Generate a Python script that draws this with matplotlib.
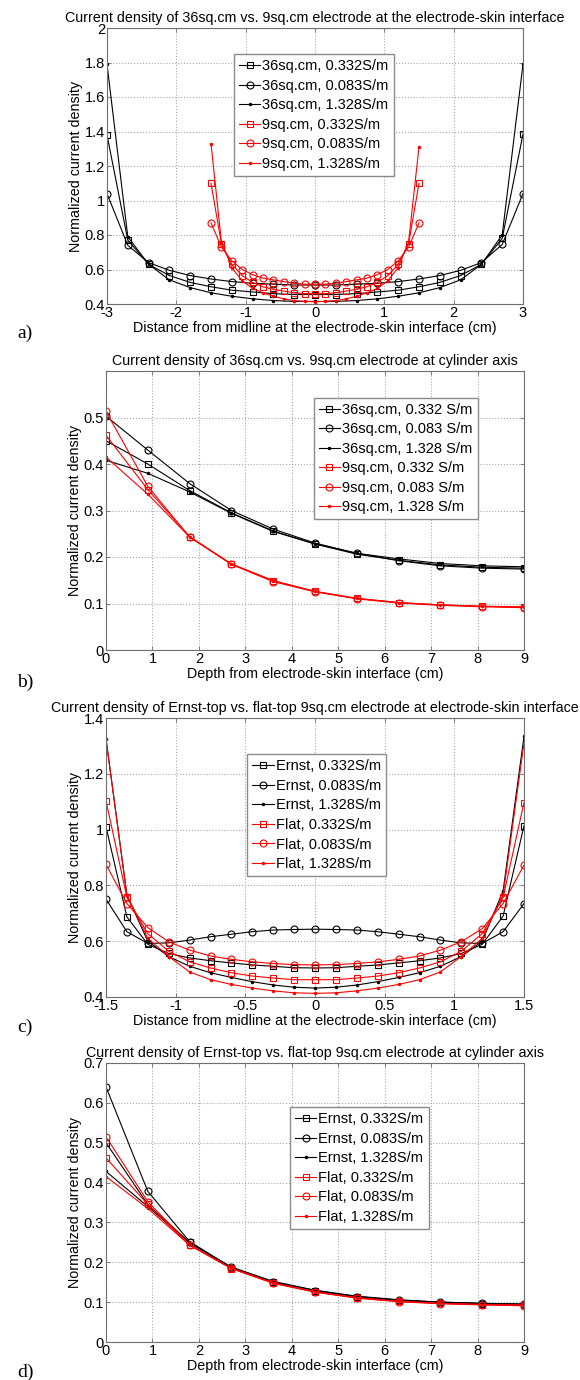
import matplotlib
matplotlib.use('Agg')
import matplotlib.pyplot as plt

plt.rcParams['font.family'] = ['Liberation Sans', 'DejaVu Sans']

# ---------------- Panel a ----------------
xa_36 = [-3.0, -2.7, -2.4, -2.1, -1.8, -1.5, -1.2, -0.9, -0.6, -0.3, 0.0,
         0.3, 0.6, 0.9, 1.2, 1.5, 1.8, 2.1, 2.4, 2.7, 3.0]
xa_9 = [-1.5, -1.35, -1.2, -1.05, -0.9, -0.75, -0.6, -0.45, -0.3, -0.15, 0.0,
        0.15, 0.3, 0.45, 0.6, 0.75, 0.9, 1.05, 1.2, 1.35, 1.5]
a_36_0332 = [1.38, 0.77, 0.63, 0.565, 0.525, 0.50, 0.48, 0.47, 0.46, 0.455, 0.455,
             0.455, 0.46, 0.47, 0.48, 0.50, 0.525, 0.565, 0.63, 0.78, 1.385]
a_36_0083 = [1.04, 0.74, 0.64, 0.595, 0.565, 0.545, 0.53, 0.52, 0.515, 0.51, 0.51,
             0.51, 0.515, 0.52, 0.53, 0.545, 0.565, 0.595, 0.64, 0.745, 1.04]
a_36_1328 = [1.79, 0.79, 0.63, 0.54, 0.495, 0.465, 0.445, 0.43, 0.42, 0.415, 0.415,
             0.415, 0.42, 0.43, 0.445, 0.465, 0.495, 0.54, 0.63, 0.80, 1.79]
a_9_0332 = [1.10, 0.75, 0.63, 0.565, 0.525, 0.50, 0.485, 0.475, 0.465, 0.46, 0.46,
            0.46, 0.465, 0.475, 0.485, 0.50, 0.525, 0.565, 0.63, 0.75, 1.10]
a_9_0083 = [0.87, 0.73, 0.65, 0.60, 0.57, 0.55, 0.54, 0.53, 0.52, 0.515, 0.515,
            0.515, 0.52, 0.53, 0.54, 0.55, 0.57, 0.60, 0.65, 0.73, 0.87]
a_9_1328 = [1.33, 0.76, 0.61, 0.535, 0.49, 0.465, 0.445, 0.43, 0.42, 0.415, 0.413,
            0.415, 0.42, 0.43, 0.445, 0.465, 0.49, 0.535, 0.61, 0.76, 1.31]
labels_a = ['36sq.cm, 0.332S/m', '36sq.cm, 0.083S/m', '36sq.cm, 1.328S/m',
            '9sq.cm, 0.332S/m', '9sq.cm, 0.083S/m', '9sq.cm, 1.328S/m']

# ---------------- Panel b ----------------
xb = [0, 0.9, 1.8, 2.7, 3.6, 4.5, 5.4, 6.3, 7.2, 8.1, 9.0]
b_36_0332 = [0.45, 0.40, 0.343, 0.295, 0.256, 0.228, 0.206, 0.193, 0.183, 0.178, 0.176]
b_36_0083 = [0.503, 0.43, 0.358, 0.30, 0.26, 0.23, 0.208, 0.192, 0.181, 0.176, 0.174]
b_36_1328 = [0.408, 0.38, 0.34, 0.294, 0.255, 0.228, 0.208, 0.196, 0.186, 0.181, 0.179]
b_9_0332 = [0.462, 0.345, 0.244, 0.185, 0.149, 0.126, 0.111, 0.102, 0.097, 0.094, 0.092]
b_9_0083 = [0.513, 0.352, 0.243, 0.184, 0.147, 0.125, 0.110, 0.101, 0.096, 0.093, 0.091]
b_9_1328 = [0.415, 0.335, 0.243, 0.185, 0.149, 0.126, 0.111, 0.102, 0.097, 0.094, 0.093]
labels_b = ['36sq.cm, 0.332 S/m', '36sq.cm, 0.083 S/m', '36sq.cm, 1.328 S/m',
            '9sq.cm, 0.332 S/m', '9sq.cm, 0.083 S/m', '9sq.cm, 1.328 S/m']

# ---------------- Panel c ----------------
xc = [-1.5, -1.35, -1.2, -1.05, -0.9, -0.75, -0.6, -0.45, -0.3, -0.15, 0.0,
      0.15, 0.3, 0.45, 0.6, 0.75, 0.9, 1.05, 1.2, 1.35, 1.5]
c_e_0332 = [1.01, 0.687, 0.589, 0.556, 0.54, 0.53, 0.522, 0.515, 0.51, 0.505, 0.504,
            0.505, 0.51, 0.515, 0.522, 0.53, 0.54, 0.556, 0.589, 0.69, 1.014]
c_e_0083 = [0.751, 0.634, 0.592, 0.594, 0.604, 0.616, 0.625, 0.634, 0.64, 0.642, 0.643,
            0.642, 0.64, 0.634, 0.625, 0.616, 0.604, 0.594, 0.592, 0.634, 0.735]
c_e_1328 = [1.325, 0.765, 0.60, 0.545, 0.51, 0.487, 0.47, 0.455, 0.443, 0.435, 0.432,
            0.435, 0.443, 0.455, 0.47, 0.487, 0.51, 0.545, 0.60, 0.78, 1.334]
c_f_0332 = [1.103, 0.757, 0.627, 0.564, 0.526, 0.504, 0.487, 0.475, 0.468, 0.462, 0.462,
            0.462, 0.468, 0.475, 0.487, 0.504, 0.526, 0.564, 0.627, 0.757, 1.097]
c_f_0083 = [0.875, 0.735, 0.649, 0.598, 0.568, 0.547, 0.535, 0.526, 0.52, 0.516, 0.515,
            0.516, 0.52, 0.526, 0.535, 0.547, 0.568, 0.598, 0.645, 0.735, 0.873]
c_f_1328 = [1.325, 0.765, 0.61, 0.545, 0.49, 0.462, 0.445, 0.432, 0.422, 0.415, 0.413,
            0.415, 0.422, 0.432, 0.445, 0.462, 0.49, 0.545, 0.61, 0.765, 1.31]
labels_c = ['Ernst, 0.332S/m', 'Ernst, 0.083S/m', 'Ernst, 1.328S/m',
            'Flat, 0.332S/m', 'Flat, 0.083S/m', 'Flat, 1.328S/m']

# ---------------- Panel d ----------------
xd = [0, 0.9, 1.8, 2.7, 3.6, 4.5, 5.4, 6.3, 7.2, 8.1, 9.0]
d_e_0332 = [0.50, 0.345, 0.25, 0.186, 0.150, 0.128, 0.113, 0.104, 0.099, 0.096, 0.094]
d_e_0083 = [0.64, 0.378, 0.252, 0.187, 0.151, 0.129, 0.114, 0.105, 0.100, 0.097, 0.095]
d_e_1328 = [0.428, 0.34, 0.248, 0.188, 0.152, 0.130, 0.115, 0.106, 0.100, 0.097, 0.095]
d_f_0332 = [0.462, 0.345, 0.243, 0.184, 0.148, 0.126, 0.111, 0.102, 0.097, 0.094, 0.092]
d_f_0083 = [0.515, 0.352, 0.244, 0.185, 0.147, 0.125, 0.110, 0.101, 0.096, 0.093, 0.091]
d_f_1328 = [0.415, 0.335, 0.243, 0.185, 0.149, 0.126, 0.111, 0.102, 0.097, 0.094, 0.093]
labels_d = labels_c

titles = ['Current density of 36sq.cm vs. 9sq.cm electrode at the electrode-skin interface',
          'Current density of 36sq.cm vs. 9sq.cm electrode at cylinder axis',
          'Current density of Ernst-top vs. flat-top 9sq.cm electrode at electrode-skin interface',
          'Current density of Ernst-top vs. flat-top 9sq.cm electrode at cylinder axis']
xlabels = ['Distance from midline at the electrode-skin interface (cm)',
           'Depth from electrode-skin interface (cm)',
           'Distance from midline at the electrode-skin interface (cm)',
           'Depth from electrode-skin interface (cm)']
ylabel = 'Normalized current density'
panel_tags = ['a)', 'b)', 'c)', 'd)']

W, H = 580, 1380
fig = plt.figure(figsize=(W / 100, H / 100), dpi=100)

# pixel boxes: left, right, top, bottom
boxes = [(107, 523, 28, 304), (106, 524, 371, 650), (106, 524, 718, 997), (106, 524, 1063, 1342)]
tag_y = [333, 682, 1027, 1372]
legend_anchor = [(0.305, 0.905), (0.497, 0.905), (0.338, 0.870), (0.44, 0.842)]

styles = [('k', 's'), ('k', 'o'), ('k', '.'), ('r', 's'), ('r', 'o'), ('r', '.')]

panels = [
    ([xa_36, xa_36, xa_36, xa_9, xa_9, xa_9],
     [a_36_0332, a_36_0083, a_36_1328, a_9_0332, a_9_0083, a_9_1328], labels_a,
     (-3, 3), (0.4, 2.0), [-3, -2, -1, 0, 1, 2, 3], [0.4, 0.6, 0.8, 1.0, 1.2, 1.4, 1.6, 1.8, 2.0],
     ['-3', '-2', '-1', '0', '1', '2', '3'], ['0.4', '0.6', '0.8', '1', '1.2', '1.4', '1.6', '1.8', '2']),
    ([xb] * 6, [b_36_0332, b_36_0083, b_36_1328, b_9_0332, b_9_0083, b_9_1328], labels_b,
     (0, 9), (0, 0.6), list(range(10)), [0, 0.1, 0.2, 0.3, 0.4, 0.5],
     [str(i) for i in range(10)], ['0', '0.1', '0.2', '0.3', '0.4', '0.5']),
    ([xc] * 6, [c_e_0332, c_e_0083, c_e_1328, c_f_0332, c_f_0083, c_f_1328], labels_c,
     (-1.5, 1.5), (0.4, 1.4), [-1.5, -1, -0.5, 0, 0.5, 1, 1.5], [0.4, 0.6, 0.8, 1.0, 1.2, 1.4],
     ['-1.5', '-1', '-0.5', '0', '0.5', '1', '1.5'], ['0.4', '0.6', '0.8', '1', '1.2', '1.4']),
    ([xd] * 6, [d_e_0332, d_e_0083, d_e_1328, d_f_0332, d_f_0083, d_f_1328], labels_d,
     (0, 9), (0, 0.7), list(range(10)), [0, 0.1, 0.2, 0.3, 0.4, 0.5, 0.6, 0.7],
     [str(i) for i in range(10)], ['0', '0.1', '0.2', '0.3', '0.4', '0.5', '0.6', '0.7']),
]

spine_col = '#6e6e6e'
for i, (xs, ys, labs, xl, yl, xt, yt, xtl, ytl) in enumerate(panels):
    l, r, t, b = boxes[i]
    ax = fig.add_axes([l / W, 1 - b / H, (r - l) / W, (b - t) / H])
    for (c, m), x, y, lab in zip(styles, xs, ys, labs):
        if m == '.':
            ax.plot(x, y, color=c, marker='.', markersize=3, linewidth=0.8, label=lab)
        else:
            ax.plot(x, y, color=c, marker=m, markersize=5, markerfacecolor='none',
                    markeredgewidth=0.8, linewidth=0.8, label=lab)
    ax.set_xlim(*xl)
    ax.set_ylim(*yl)
    ax.set_xticks(xt)
    ax.set_xticklabels(xtl)
    ax.set_yticks(yt)
    ax.set_yticklabels(ytl)
    ax.grid(True, linestyle=':', color='#a8a8a8', linewidth=0.8)
    ax.tick_params(direction='in', length=3, width=0.6, top=True, right=True,
                   labelsize=10.5, pad=1.5, colors='#6e6e6e', labelcolor='black')
    for s in ax.spines.values():
        s.set_color(spine_col)
        s.set_linewidth(0.8)
    ax.set_title(titles[i], fontsize=10.3, pad=4)
    ax.set_xlabel(xlabels[i], fontsize=10.3, labelpad=1)
    ax.set_ylabel(ylabel, fontsize=10.3, labelpad=1)
    leg = ax.legend(loc='upper left', bbox_to_anchor=legend_anchor[i], fontsize=10.5,
                    handlelength=1.45, handletextpad=0.15, labelspacing=0.38,
                    borderpad=0.35, borderaxespad=0, fancybox=False, framealpha=1,
                    edgecolor='#8a8a8a')
    leg.get_frame().set_linewidth(1.0)
    fig.text(17 / W, 1 - tag_y[i] / H, panel_tags[i], fontsize=14,
             family=['Liberation Serif', 'DejaVu Serif'], va='center', ha='left')

fig.savefig('out.png', dpi=100)
